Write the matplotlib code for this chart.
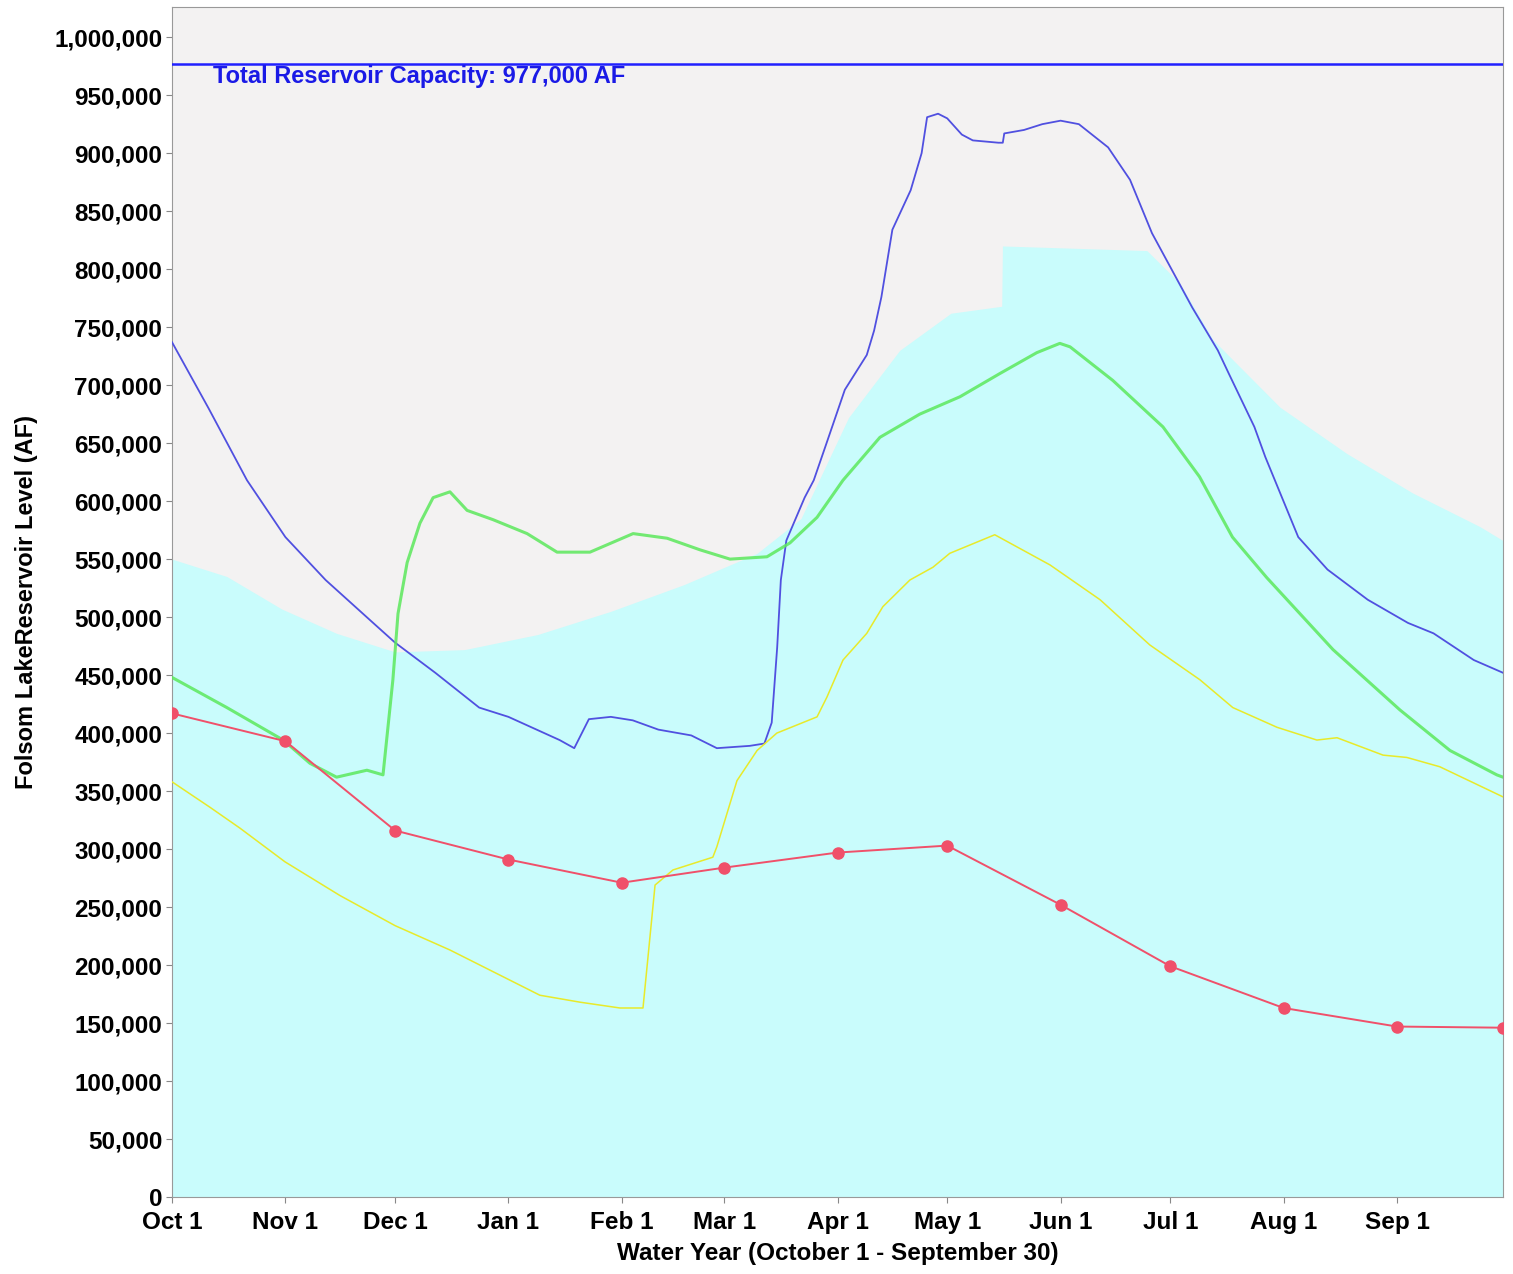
import matplotlib.pyplot as plt
import numpy as np

plt.rcParams['font.family'] = ['Liberation Sans', 'DejaVu Sans']
plt.rcParams['font.weight'] = 'bold'

# x values are days since Oct 1, y values in thousands of acre-feet
month_days = [0, 31, 61, 92, 123, 151, 182, 212, 243, 273, 304, 335]
month_labels = ["Oct 1", "Nov 1", "Dec 1", "Jan 1", "Feb 1", "Mar 1", "Apr 1",
                "May 1", "Jun 1", "Jul 1", "Aug 1", "Sep 1"]

capacity = 977000

# flood control space envelope (cyan area)
env_days = [0, 15, 30, 45, 61, 80, 100, 120, 140, 160, 172, 185, 199, 213, 226.9,
            227.1, 266.6, 275.6, 284.7, 303, 321.3, 339.3, 357.7, 364]
env_vals = [550, 535, 507, 486, 470, 472, 485, 505, 528, 555, 585, 672, 730, 762, 768,
            820, 816, 788, 739, 681, 641, 607, 578, 566]

blue_days = [0, 10, 20.5, 31, 42, 55, 61, 72, 84, 92, 106, 110, 114, 120, 126, 133,
             142, 149, 158, 162, 164, 165.5, 166.5, 168, 173, 175.5, 179, 184, 190,
             192, 194, 197, 202, 205, 206.5, 209.5, 212, 216, 219, 226, 227.2, 227.6,
             233, 238, 243, 248, 256, 262, 268, 279, 286, 289, 296, 299, 308, 316,
             327, 338, 345, 356, 364]
blue_vals = [737, 680, 618, 569, 532, 495, 478, 452, 422, 414, 394, 387, 412, 414,
             411, 403, 398, 387, 389, 391, 409, 474, 532, 566, 603, 618, 650, 696,
             726, 747, 776, 834, 868, 900, 931, 934, 930, 916, 911, 909, 909, 917,
             920, 925, 928, 925, 905, 877, 831, 767, 730, 710, 664, 638, 569, 541,
             515, 495, 486, 463, 452]

green_days = [0, 15, 30.4, 37.7, 45, 53.3, 57.7, 60.4, 61.8, 64.3, 67.8, 71.4, 76,
              80.7, 87.8, 97.1, 105.3, 114.3, 126.1, 135.4, 144.4, 152.6, 162.7, 169,
              176.4, 183.5, 193.6, 204.5, 215.5, 226.4, 236.5, 242.8, 245.6, 257.3,
              271, 281, 290, 299.4, 317.5, 335.8, 349.5, 362.3, 364]
green_vals = [448, 422, 394, 374, 362, 368, 364, 446, 503, 547, 581, 603, 608, 592,
              584, 572, 556, 556, 572, 568, 558, 550, 552, 564, 586, 618, 655, 675,
              690, 710, 728, 736, 733, 704, 664, 621, 569, 534, 472, 420, 385, 364, 362]

yellow_days = [0, 10.4, 18.6, 30.9, 45.9, 61, 76, 92.4, 100.6, 111.6, 122.5, 128.8,
               132.1, 137, 147.9, 149, 154.5, 160, 165.4, 176.4, 179.1, 183.5, 190,
               194.4, 201.8, 208.1, 212.7, 225, 240.1, 253.8, 267.4, 281.1, 290.1,
               302.2, 313.1, 318.6, 331.2, 337.7, 346.7, 364]
yellow_vals = [358, 336, 318, 289, 260, 234, 213, 187, 174, 168, 163, 163, 269, 282,
               293, 302, 359, 385, 400, 414, 431, 463, 486, 509, 532, 543, 555, 571,
               545, 515, 476, 446, 422, 405, 394, 396, 381, 379, 371, 345]

red_days = [0, 31, 61, 92, 123, 151, 182, 212, 243, 273, 304, 335, 364]
red_vals = [417, 393, 316, 291, 271, 284, 297, 303, 252, 199, 163, 147, 146]

fig = plt.figure(figsize=(15.13, 12.74), dpi=100)
ax = fig.add_axes([0.1137, 0.0604, 0.8797, 0.9341])
ax.set_facecolor('#f3f2f2')

k = 1000
ax.fill_between(env_days, 0, np.array(env_vals) * k, color='#c9fcfc', lw=0, zorder=1)

ax.axhline(capacity, color='#2020ff', lw=1.8, zorder=3)
ax.text(11.2, 966000, "Total Reservoir Capacity: 977,000 AF", color='#1a1ae6',
        fontsize=17, fontweight='bold', va='center', ha='left', zorder=5)

ax.plot(blue_days, np.array(blue_vals) * k, color='#5050e0', lw=1.3, zorder=4)
ax.plot(green_days, np.array(green_vals) * k, color='#5ce85c', lw=2.2, alpha=0.85, zorder=4)
ax.plot(yellow_days, np.array(yellow_vals) * k, color='#e8ea2a', lw=1.1, zorder=4)
ax.plot(red_days, np.array(red_vals) * k, color='#f0506a', lw=1.4, marker='o',
        markersize=8, zorder=5)

ax.set_xlim(0, 364)
ax.set_ylim(0, 1026000)
ax.set_xticks(month_days)
ax.set_xticklabels(month_labels)
yt = np.arange(0, 1000001, 50000)
ax.set_yticks(yt)
ax.set_yticklabels([f"{v:,}" for v in yt])
ax.tick_params(labelsize=17.5, length=4, color='#888888')
ax.tick_params(axis='x', pad=6)
ax.tick_params(axis='y', pad=3)
for lab in ax.get_xticklabels() + ax.get_yticklabels():
    lab.set_fontweight('bold')
for s in ax.spines.values():
    s.set_color('#999999')

ax.set_xlabel("Water Year (October 1 - September 30)", fontsize=17.5, fontweight='bold', labelpad=6)
ax.set_ylabel("Folsom LakeReservoir Level (AF)", fontsize=17, fontweight='bold', labelpad=12)

fig.savefig("out.png", dpi=100)
